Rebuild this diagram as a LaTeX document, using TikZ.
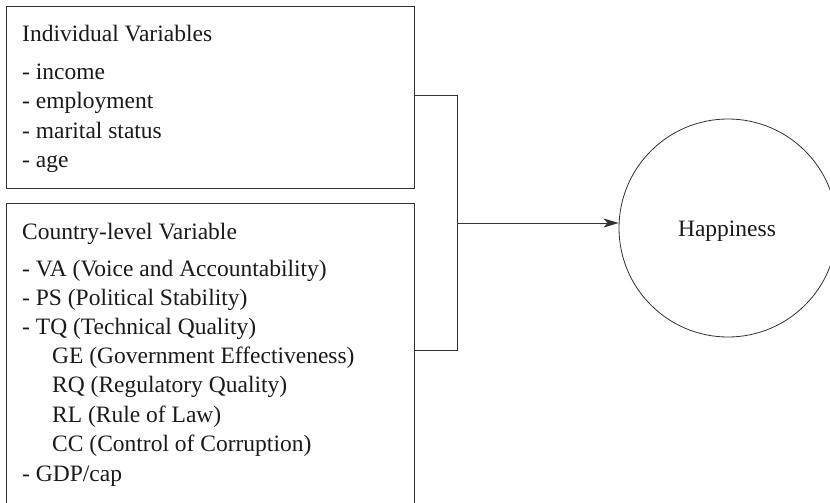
\documentclass[tikz,border=0pt]{standalone}
\usepackage{fontspec}
\setmainfont{Liberation Serif}
\usetikzlibrary{arrows.meta,calc}
\definecolor{ink}{HTML}{333333}
\definecolor{txt}{HTML}{1A1A1A}
\tikzset{
  box/.style={draw=ink, line width=1pt, rectangle, inner sep=0pt, anchor=north west},
  lbl/.style={anchor=base west, inner sep=0pt, text=txt, font=\fontsize{23.5}{28}\selectfont},
  wire/.style={draw=ink, line width=1pt},
  arr/.style={wire, -{Stealth[length=15pt,width=9pt,inset=4pt]}},
}
\begin{document}
\begin{tikzpicture}[x=1pt,y=-1pt]
\useasboundingbox (0,0) rectangle (830,503);
\clip (0,0) rectangle (830,503);
% boxes
\node[box, minimum width=408pt, minimum height=182pt] (b1) at (6,6) {};
\node[box, minimum width=408pt, minimum height=310pt] (b2) at (6,203) {};
% box 1 text
\node[lbl] (t1) at (22,42) {Individual Variables};
\node[lbl] (t2) at (22,79) {- income};
\node[lbl] (t3) at (22,108.5) {- employment};
\node[lbl] (t4) at (22,138) {- marital status};
\node[lbl] (t5) at (22,167) {- age};
% box 2 text
\node[lbl] (c1) at (22,239) {Country-level Variable};
\node[lbl] (c2) at (22,276) {- VA (Voice and Accountability)};
\node[lbl] (c3) at (22,305) {- PS (Political Stability)};
\node[lbl] (c4) at (22,334) {- TQ (Technical Quality)};
\node[lbl] (c5) at (52,363) {GE (Government Effectiveness)};
\node[lbl] (c6) at (52,392) {RQ (Regulatory Quality)};
\node[lbl] (c7) at (52,422) {RL (Rule of Law)};
\node[lbl] (c8) at (52,451) {CC (Control of Corruption)};
\node[lbl] (c9) at (22,481) {- GDP/cap};
% outcome
\node[draw=ink, line width=0.8pt, circle, minimum size=218pt, inner sep=0pt] (h) at (728,228) {};
\node[lbl, anchor=base] (ht) at (727,236) {Happiness};
% connectors
\coordinate (p1) at (414,95);
\coordinate (p2) at (457,95);
\coordinate (p3) at (457,350);
\coordinate (p4) at (414,350);
\coordinate (m) at (457,223);
\draw[wire] (p1) -- (p2) -- (p3) -- (p4);
\draw[arr] (m) -- (m -| h.west);
\end{tikzpicture}
\end{document}
